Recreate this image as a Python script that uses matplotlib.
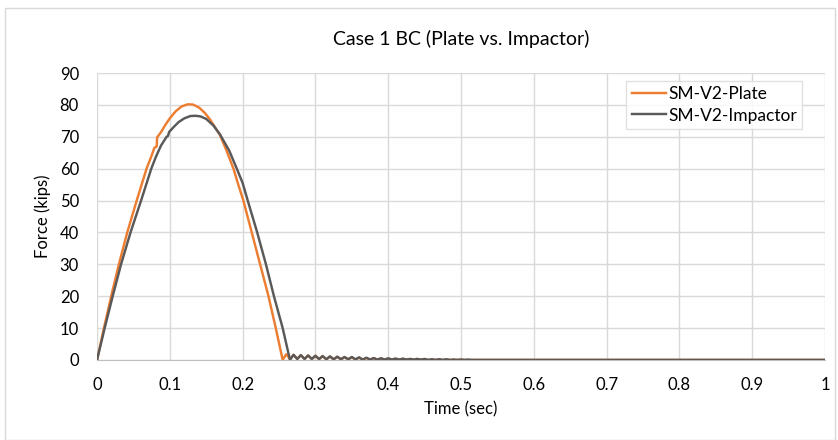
import matplotlib.pyplot as plt

plt.rcParams['font.family'] = ['Lato', 'DejaVu Sans']

title = "Case 1 BC (Plate vs. Impactor)"
x_label = "Time (sec)"
y_label = "Force (kips)"
x_ticks = [0, 0.1, 0.2, 0.3, 0.4, 0.5, 0.6, 0.7, 0.8, 0.9, 1]
x_tick_labels = ["0", "0.1", "0.2", "0.3", "0.4", "0.5", "0.6", "0.7", "0.8", "0.9", "1"]
y_ticks = [0, 10, 20, 30, 40, 50, 60, 70, 80, 90]

# main pulse
plate_t = [0, 0.0095, 0.0195, 0.03, 0.0415, 0.0545, 0.068, 0.074, 0.0787, 0.082, 0.0825,
           0.088, 0.094, 0.1, 0.108, 0.116, 0.1245, 0.132, 0.14, 0.148, 0.155, 0.162,
           0.169, 0.178, 0.1874, 0.194, 0.201, 0.2125, 0.224, 0.2355, 0.2455, 0.255]
plate_f = [0, 10, 20, 30, 40, 50, 60, 63.5, 66.5, 67, 69.8,
           71.5, 73.8, 75.8, 78, 79.5, 80.2, 80.1, 79.2, 77.5, 75.5, 73,
           70.5, 65.6, 60, 55, 50, 40, 30, 20, 10, 0]
imp_t = [0, 0.0105, 0.0215, 0.033, 0.046, 0.0605, 0.0745, 0.081, 0.088, 0.0956, 0.0975,
         0.099, 0.105, 0.112, 0.12, 0.128, 0.135, 0.142, 0.15, 0.16, 0.169,
         0.1817, 0.192, 0.2, 0.207, 0.22, 0.232, 0.243, 0.255, 0.265]
imp_f = [0, 10, 20, 30, 40, 50, 60, 63.8, 67.3, 70, 70.3,
         71.5, 73, 74.6, 75.8, 76.5, 76.6, 76.4, 75.6, 73.5, 70.7,
         65.6, 60, 55.5, 50, 40, 30, 20, 10, 0]

# ringing after contact ends (t step 0.005)
plate_tail = [1.8, 0.3, 1.6, 0.3, 1.5, 0.3, 1.4, 0.3, 1.3, 0.2, 1.2, 0.2, 1.1, 0.2,
              1.0, 0.2, 0.9, 0.2, 0.8, 0.1, 0.7, 0.1, 0.6, 0.1, 0.5, 0.1, 0.5, 0.1,
              0.4, 0.1, 0.4, 0.1, 0.3, 0.1, 0.3, 0.1, 0.3, 0.0, 0.2, 0.0, 0.2, 0.0,
              0.2, 0.0, 0.1, 0.0, 0.1, 0.0, 0.1, 0.0]
imp_tail = [1.6, 0.3, 1.5, 0.3, 1.4, 0.3, 1.3, 0.3, 1.2, 0.2, 1.1, 0.2, 1.0, 0.2,
            0.9, 0.2, 0.9, 0.2, 0.8, 0.1, 0.7, 0.1, 0.6, 0.1, 0.5, 0.1, 0.5, 0.1,
            0.4, 0.1, 0.4, 0.1, 0.3, 0.1, 0.3, 0.1, 0.3, 0.0, 0.2, 0.0, 0.2, 0.0,
            0.2, 0.0, 0.1, 0.0, 0.1, 0.0, 0.1, 0.0]

plate_x = plate_t + [0.26 + 0.005 * i for i in range(len(plate_tail))] + [1.0]
plate_y = plate_f + plate_tail + [0]
imp_x = imp_t + [0.27 + 0.005 * i for i in range(len(imp_tail))] + [1.0]
imp_y = imp_f + imp_tail + [0]

fig = plt.figure(figsize=(8.38, 4.4), dpi=100)
fig.patches.append(plt.Rectangle((0.006, 0.0), 0.99, 0.981, transform=fig.transFigure,
                                 fill=False, edgecolor='#d9d9d9', linewidth=1))
ax = fig.add_axes([0.1158, 0.182, 0.8687, 0.652])

ax.plot(imp_x, imp_y, color='#595959', linewidth=1.75, label='SM-V2-Impactor', zorder=3)
ax.plot(plate_x, plate_y, color='#ed7d31', linewidth=1.75, label='SM-V2-Plate', zorder=2)

ax.set_xlim(0, 1)
ax.set_ylim(0, 90)
ax.set_xticks(x_ticks)
ax.set_xticklabels(x_tick_labels)
ax.set_yticks(y_ticks)
ax.grid(True, color='#d9d9d9', linewidth=1)
ax.set_axisbelow(True)
for s in ['top', 'right', 'left']:
    ax.spines[s].set_visible(False)
ax.spines['bottom'].set_color('#bfbfbf')
ax.tick_params(axis='x', length=0, labelsize=12, pad=12)
ax.tick_params(axis='y', length=0, labelsize=12, pad=13)

ax.set_title(title, fontsize=14, pad=20)
ax.set_xlabel(x_label, fontsize=12, labelpad=6)
ax.set_ylabel(y_label, fontsize=12, labelpad=6)

h, l = ax.get_legend_handles_labels()
leg = ax.legend(h[::-1], l[::-1], loc='upper right', bbox_to_anchor=(0.9755, 0.99),
                fontsize=12.5, frameon=True, fancybox=False, edgecolor='#d9d9d9',
                handlelength=2.0, borderpad=0.3, labelspacing=0.3, handletextpad=0.1,
                borderaxespad=0.3)
leg.get_frame().set_linewidth(1)

fig.savefig('out.png', dpi=100)
